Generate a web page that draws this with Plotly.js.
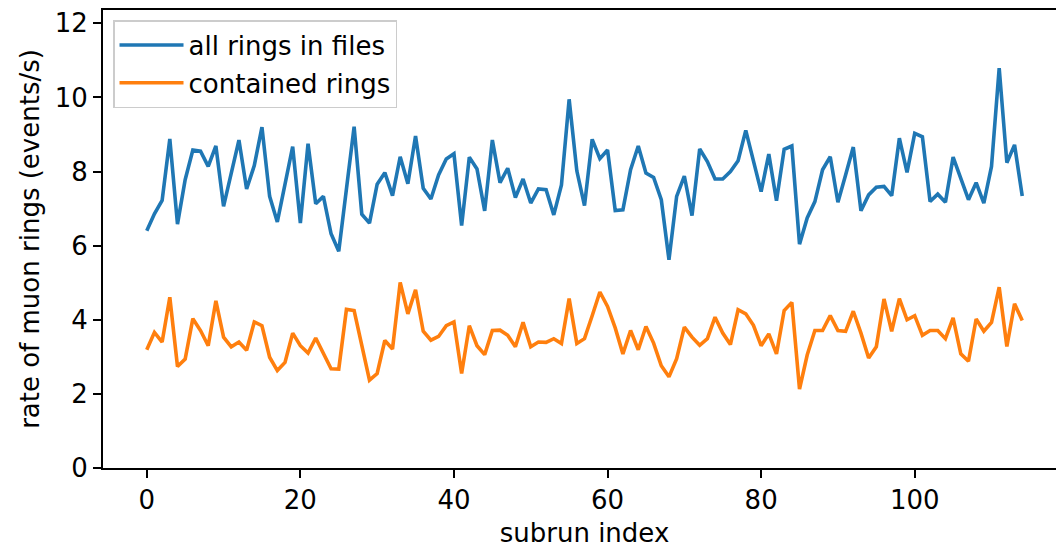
<!DOCTYPE html>
<html>
<head>
<meta charset="utf-8">
<script src="https://cdn.plot.ly/plotly-3.0.1.min.js"></script>
<style>
  html, body { margin: 0; padding: 0; overflow: hidden; background: #fff; }
  #chart { width: 1070px; height: 548px; }
</style>
</head>
<body>
<div id="chart"></div>
<script>
// subrun indices 0..114
const subrunIndex = [];
for (let i = 0; i < 115; i++) subrunIndex.push(i);

const seriesNames = ["all rings in files", "contained rings"];

const allRings = [
  6.40, 6.86, 7.22, 8.88, 6.58, 7.78, 8.58, 8.55, 8.14, 8.69,
  7.06, 7.96, 8.85, 7.53, 8.16, 9.20, 7.33, 6.64, 7.64, 8.67,
  6.61, 8.75, 7.13, 7.33, 6.32, 5.85, 7.53, 9.21, 6.85, 6.61,
  7.66, 7.97, 7.35, 8.40, 7.67, 8.96, 7.55, 7.26, 7.91, 8.34,
  8.48, 6.54, 8.39, 8.07, 6.94, 8.85, 7.70, 8.09, 7.30, 7.80,
  7.15, 7.53, 7.51, 6.83, 7.64, 9.95, 8.02, 7.08, 8.87, 8.35,
  8.58, 6.95, 6.97, 8.05, 8.69, 7.96, 7.84, 7.24, 5.62, 7.33,
  7.88, 6.81, 8.61, 8.27, 7.80, 7.80, 8.00, 8.29, 9.11, 8.27,
  7.46, 8.47, 7.21, 8.60, 8.69, 6.04, 6.75, 7.19, 8.05, 8.40,
  7.17, 7.91, 8.66, 6.94, 7.37, 7.58, 7.60, 7.35, 8.90, 7.98,
  9.03, 8.94, 7.19, 7.39, 7.17, 8.39, 7.80, 7.24, 7.70, 7.15,
  8.14, 10.79, 8.24, 8.72, 7.34
];

const containedRings = [
  3.19, 3.66, 3.40, 4.61, 2.74, 2.94, 4.03, 3.71, 3.30, 4.51,
  3.53, 3.27, 3.40, 3.18, 3.94, 3.84, 2.99, 2.63, 2.85, 3.64,
  3.30, 3.10, 3.51, 3.09, 2.68, 2.67, 4.28, 4.25, 3.33, 2.37,
  2.55, 3.44, 3.21, 5.01, 4.16, 4.81, 3.69, 3.45, 3.55, 3.84,
  3.94, 2.55, 3.84, 3.30, 3.06, 3.71, 3.72, 3.58, 3.27, 3.93,
  3.27, 3.40, 3.39, 3.49, 3.36, 4.57, 3.36, 3.49, 4.11, 4.75,
  4.36, 3.78, 3.08, 3.71, 3.19, 3.82, 3.37, 2.76, 2.46, 2.95,
  3.80, 3.53, 3.31, 3.49, 4.07, 3.64, 3.33, 4.27, 4.16, 3.85,
  3.30, 3.62, 3.08, 4.25, 4.47, 2.13, 3.05, 3.71, 3.71, 4.11,
  3.71, 3.69, 4.23, 3.64, 2.97, 3.27, 4.56, 3.69, 4.57, 4.00,
  4.11, 3.58, 3.71, 3.71, 3.49, 4.05, 3.08, 2.88, 4.02, 3.69,
  3.93, 4.88, 3.28, 4.43, 3.98
];

const xTickVals = [0, 20, 40, 60, 80, 100];
const yTickVals = [0, 2, 4, 6, 8, 10, 12];

const FONT = "DejaVu Sans, Verdana, sans-serif";
const FS = 26;

const traces = [
  {
    x: subrunIndex, y: allRings, name: seriesNames[0], legendgroup: "a",
    type: "scatter", mode: "lines",
    line: { color: "#1f77b4", width: 3.6 }
  },
  {
    x: subrunIndex, y: containedRings, name: seriesNames[1], legendgroup: "b",
    type: "scatter", mode: "lines",
    line: { color: "#ff7f0e", width: 3.6 }
  }
];

const axisCommon = {
  showgrid: false, zeroline: false,
  showline: true, linecolor: "#000", linewidth: 2, mirror: true,
  ticks: "outside", ticklen: 8, tickwidth: 2, tickcolor: "#000",
  tickfont: { family: FONT, size: FS, color: "#000" },
  fixedrange: true
};

const layout = {
  width: 1070, height: 548,
  margin: { l: 103, r: 4, t: 10, b: 80 },
  paper_bgcolor: "#fff", plot_bgcolor: "#fff",
  font: { family: FONT, color: "#000" },
  showlegend: true,
  legend: {
    x: 0.0104, y: 0.978, xanchor: "left", yanchor: "top",
    bgcolor: "rgba(255,255,255,0.8)", bordercolor: "#cccccc", borderwidth: 1.5,
    font: { family: FONT, size: FS, color: "#000" },
    itemwidth: 64,
    tracegroupgap: 1
  },
  xaxis: Object.assign({}, axisCommon, {
    range: [-5.7, 119.7],
    tickvals: xTickVals, ticktext: xTickVals.map(String),
    title: { text: "subrun index", font: { family: FONT, size: FS, color: "#000" }, standoff: 10 }
  }),
  yaxis: Object.assign({}, axisCommon, {
    range: [0, 12.36],
    tickvals: yTickVals, ticktext: yTickVals.map(String),
    title: { text: "rate of muon rings (events/s)", font: { family: FONT, size: FS, color: "#000" }, standoff: 8 }
  })
};

Plotly.newPlot("chart", traces, layout, { staticPlot: true, displayModeBar: false });
</script>
</body>
</html>
